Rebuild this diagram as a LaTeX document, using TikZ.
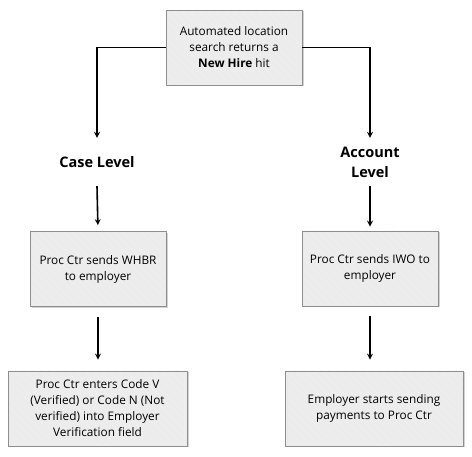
\documentclass[tikz,border=0pt]{standalone}
\usepackage{fontspec}
\setmainfont{Open Sans}
\usepackage{tikz}
\usetikzlibrary{shapes.geometric, arrows, shadows, patterns.meta}
\definecolor{boxfill}{HTML}{ECECEC}
\definecolor{boxline}{HTML}{8E8E8E}
\tikzstyle{procbox} = [rectangle, minimum height=75pt, text centered, align=center, draw=boxline, line width=0.9pt, font=\fontsize{11.8}{16}\selectfont, preaction={fill=boxfill, drop shadow={shadow xshift=1.5pt, shadow yshift=-1.5pt, opacity=0.35, fill=gray}}, pattern={Lines[angle=-45,distance=6pt,line width=0.35pt]}, pattern color=white!90!gray]
\tikzstyle{lvl} = [minimum height=48pt, align=center, font=\fontsize{14.5}{20}\selectfont\bfseries]
\tikzstyle{arrow} = [line width=1.6pt,->,>=stealth]
\tikzstyle{gaparrow} = [arrow, shorten <=10pt, shorten >=11pt]

\begin{document}
\begin{tikzpicture}[x=1pt, y=-1pt]
\useasboundingbox (0,0) rectangle (472,457);

\node (hit) [procbox, minimum width=136pt] at (234,47.5) {Automated location\\search returns a\\\textbf{New Hire} hit};
\node (case) [lvl] at (97,162) {Case Level};
\node (acct) [lvl] at (370,162) {Account\\Level};
\node (whbr) [procbox, minimum width=136pt] at (98,269) {Proc Ctr sends WHBR\\to employer};
\node (iwo) [procbox, minimum width=136pt] at (370,268.5) {Proc Ctr sends IWO to\\employer};
\node (code) [procbox, minimum width=179pt] at (97.5,408.5) {Proc Ctr enters Code V\\(Verified) or Code N (Not\\verified) into Employer\\Verification field};
\node (pay) [procbox, minimum width=178pt] at (374,408.5) {Employer starts sending\\payments to Proc Ctr};

\draw [arrow] (hit.west) -| (case.north);
\draw [arrow] (hit.east) -| (acct.north);
\draw [arrow, shorten >=6pt] (case.south) -- (whbr.north);
\draw [arrow, shorten >=4pt] (acct.south) -- (iwo.north);
\draw [gaparrow] (whbr.south) -- (whbr.south |- code.north);
\draw [gaparrow] (iwo.south) -- (iwo.south |- pay.north);
\end{tikzpicture}
\end{document}
